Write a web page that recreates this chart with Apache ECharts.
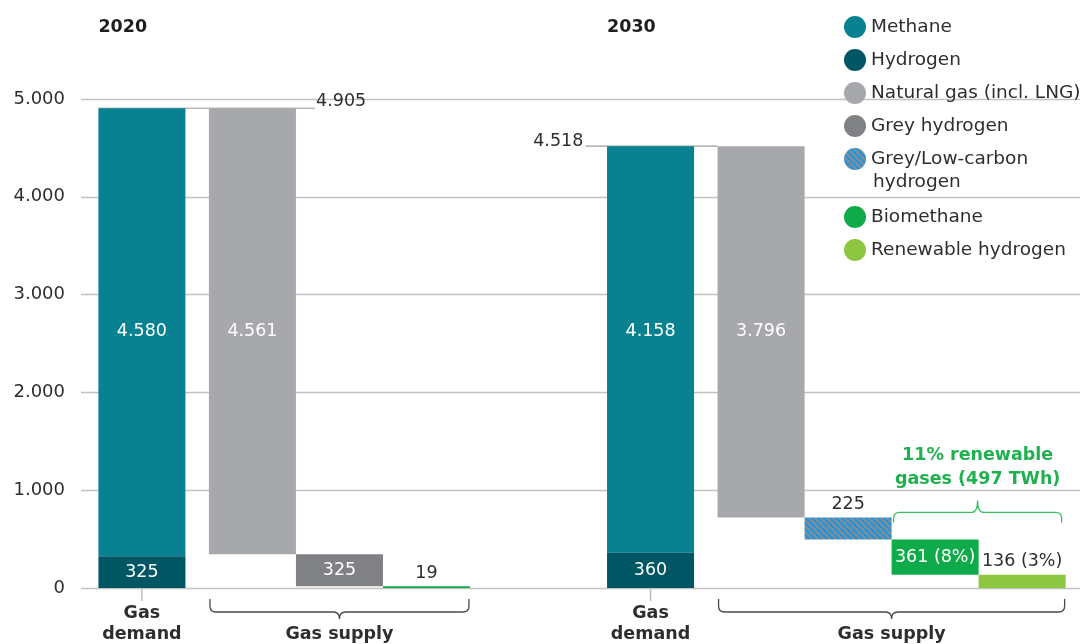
<!DOCTYPE html>
<html><head><meta charset="utf-8">
<script src="https://cdn.jsdelivr.net/npm/echarts@6/dist/echarts.min.js"></script>
<style>html,body{margin:0;padding:0;background:#fff}#c{width:1080px;height:644px}</style>
</head><body><div id="c"></div>
<script>
// ---------------- data ----------------
const years = ['2020', '2030'];
const demandMethane = [4580, 4158];
const demandHydrogen = [325, 360];
const demandTotal = [4905, 4518];
const supplyCategories2020 = ['Natural gas (incl. LNG)', 'Grey hydrogen', 'Biomethane'];
const supplyValues2020 = [4561, 325, 19];
const supplyCategories2030 = ['Natural gas (incl. LNG)', 'Grey/Low-carbon hydrogen', 'Biomethane', 'Renewable hydrogen'];
const supplyValues2030 = [3796, 225, 361, 136];
const supplyShare2030 = [null, null, 8, 3];
const renewableShare2030 = 11;
const renewableTWh2030 = 497;
const yTicks = [0, 1000, 2000, 3000, 4000, 5000];
const seriesNames = ['Methane', 'Hydrogen', 'Natural gas (incl. LNG)', 'Grey hydrogen', 'Grey/Low-carbon hydrogen', 'Biomethane', 'Renewable hydrogen'];

// ---------------- styles / layout ----------------
const FONT = "'DejaVu Sans', sans-serif";
const TXT = '#2e2e2e';
const GREEN_TXT = '#1fb04f';
const LAYOUT = { barW: 1, leftPad: 0.2, innerGap: 0.27, groupGap: 1.575, xMax: 11.48, totalLineOver: [0.22, 0.25], totalLabelSide: ['right', 'left'] };

function hatchPattern() {
  const s = 6, c = document.createElement('canvas');
  c.width = s; c.height = s;
  const g = c.getContext('2d');
  g.fillStyle = '#8a8b8e'; g.fillRect(0, 0, s, s);
  g.strokeStyle = '#2196e0'; g.lineWidth = 2.4;
  [-s, 0, s].forEach(o => { g.beginPath(); g.moveTo(o, 0); g.lineTo(o + s, s); g.stroke(); });
  return { image: c, repeat: 'repeat' };
}
const COLORS = {
  'Methane': '#088291', 'Hydrogen': '#005663', 'Natural gas (incl. LNG)': '#a7a8ab', 'Grey hydrogen': '#808184',
  'Grey/Low-carbon hydrogen': hatchPattern(), 'Biomethane': '#0fab4a', 'Renewable hydrogen': '#8dc63f'
};

function fmt(v) { return String(v).replace(/\B(?=(\d{3})+(?!\d))/g, '.'); }

// ---------------- build geometry from data ----------------
const groups = [];
let cursor = LAYOUT.leftPad;
years.forEach((yr, g) => {
  const vals = g === 0 ? supplyValues2020 : supplyValues2030;
  const names = g === 0 ? supplyCategories2020 : supplyCategories2030;
  const shares = g === 0 ? [] : supplyShare2030;
  const dLeft = cursor, dRight = dLeft + LAYOUT.barW;
  const sLeft = dRight + LAYOUT.innerGap;
  let top = demandTotal[g];
  const supply = vals.map((v, i) => {
    const hi = top, lo = top - v; top = lo;
    const share = shares[i];
    return { name: names[i], x0: sLeft + i * LAYOUT.barW, x1: sLeft + (i + 1) * LAYOUT.barW, lo, hi,
      label: share != null ? fmt(v) + ' (' + share + '%)' : fmt(v) };
  });
  const sRight = sLeft + vals.length * LAYOUT.barW;
  const ng = supply[0];
  const demand = [
    { name: 'Hydrogen', x0: dLeft, x1: dRight, lo: 0, hi: demandHydrogen[g], label: fmt(demandHydrogen[g]) },
    { name: 'Methane', x0: dLeft, x1: dRight, lo: demandHydrogen[g], hi: demandHydrogen[g] + demandMethane[g],
      label: fmt(demandMethane[g]), labelAt: (ng.lo + ng.hi) / 2 }
  ];
  groups.push({ yr, g, dLeft, dRight, sLeft, sRight, supply, demand, total: demandTotal[g] });
  cursor = sRight + LAYOUT.groupGap;
});

const barItems = {};
seriesNames.forEach(n => barItems[n] = []);
groups.forEach(G => G.demand.concat(G.supply).forEach(b => barItems[b.name].push(b)));

function makeBarRender(name) {
  return function (params, api) {
    const b = barItems[name][params.dataIndex];
    const p0 = api.coord([api.value(0), api.value(2)]);
    const p1 = api.coord([api.value(1), api.value(3)]);
    const h = p0[1] - p1[1];
    const cx = (p0[0] + p1[0]) / 2;
    const children = [{ type: 'rect', shape: { x: p0[0], y: p1[1], width: p1[0] - p0[0], height: h }, style: { fill: COLORS[name] } }];
    let ly, fill;
    if (h >= 26) { ly = api.coord([0, b.labelAt != null ? b.labelAt : (b.lo + b.hi) / 2])[1]; fill = '#ffffff'; }
    else { ly = p1[1] - 13; fill = TXT; }
    children.push({ type: 'text', z2: 10, style: { text: b.label, x: cx, y: ly, align: 'center', verticalAlign: 'middle', fill, fontSize: 17.5, fontFamily: FONT } });
    return { type: 'group', children };
  };
}

function bracePath(xa, xb, yt, yh, yc) {
  const r = 6, xm = (xa + xb) / 2, d = yh > yt ? 1 : -1;
  return `M${xa},${yt} L${xa},${yh - d * r} Q${xa},${yh} ${xa + r},${yh} L${xm - r},${yh} Q${xm},${yh} ${xm},${yc} Q${xm},${yh} ${xm + r},${yh} L${xb - r},${yh} Q${xb},${yh} ${xb},${yh - d * r} L${xb},${yt}`;
}

function renderAnno(params, api) {
  const G = groups[params.dataIndex];
  const base = api.coord([0, 0])[1];
  const ch = [];
  // total line + label
  const ty = api.coord([0, G.total])[1];
  let xs, xe;
  if (LAYOUT.totalLabelSide[G.g] === 'right') {
    xs = api.coord([G.dLeft, 0])[0]; xe = api.coord([G.supply[0].x1 + LAYOUT.totalLineOver[G.g], 0])[0];
    ch.push({ type: 'text', style: { text: fmt(G.total), x: xe + 1, y: ty - 7, align: 'left', verticalAlign: 'middle', fill: TXT, fontSize: 17.5, fontFamily: FONT } });
  } else {
    xs = api.coord([G.dLeft - LAYOUT.totalLineOver[G.g], 0])[0]; xe = api.coord([G.sLeft, 0])[0];
    ch.push({ type: 'text', style: { text: fmt(G.total), x: xs - 2, y: ty - 5, align: 'right', verticalAlign: 'middle', fill: TXT, fontSize: 17.5, fontFamily: FONT } });
  }
  ch.push({ type: 'line', shape: { x1: xs, y1: ty, x2: xe, y2: ty }, style: { stroke: '#b9b9b9', lineWidth: 1.6 } });
  // year title
  ch.push({ type: 'text', style: { text: G.yr, x: api.coord([G.dLeft, 0])[0], y: 27, align: 'left', verticalAlign: 'middle', fill: '#1e1e1e', fontSize: 17.5, fontWeight: 'bold', fontFamily: FONT } });
  // demand tick + label
  const dc = api.coord([(G.dLeft + G.dRight) / 2, 0])[0];
  ch.push({ type: 'line', shape: { x1: dc, y1: base + 1, x2: dc, y2: base + 13 }, style: { stroke: '#b9b9b9', lineWidth: 1.4 } });
  ch.push({ type: 'text', style: { text: 'Gas\ndemand', x: dc, y: base + 36, align: 'center', verticalAlign: 'middle', lineHeight: 21, fill: TXT, fontSize: 17.5, fontWeight: 'bold', fontFamily: FONT } });
  // supply brace + label
  const sa = api.coord([G.sLeft, 0])[0], sb = api.coord([G.sRight, 0])[0];
  ch.push({ type: 'path', shape: { pathData: bracePath(sa + 1, sb - 1, base + 11, base + 24, base + 31) }, style: { stroke: '#4a4a4a', lineWidth: 1.3, fill: null } });
  ch.push({ type: 'text', style: { text: 'Gas supply', x: (sa + sb) / 2, y: base + 46, align: 'center', verticalAlign: 'middle', fill: TXT, fontSize: 17.5, fontWeight: 'bold', fontFamily: FONT } });
  // renewable annotation
  const ren = G.supply.filter(b => b.name === 'Biomethane' || b.name === 'Renewable hydrogen');
  if (ren.length === 2) {
    const xa = api.coord([ren[0].x0, 0])[0] + 2, xb = api.coord([ren[1].x1, 0])[0] - 4;
    const yt = api.coord([0, ren[0].hi])[1] - 17;
    ch.push({ type: 'path', shape: { pathData: bracePath(xa, xb, yt, yt - 10, yt - 22) }, style: { stroke: '#3cbd62', lineWidth: 1.3, fill: null } });
    ch.push({ type: 'text', style: { text: renewableShare2030 + '% renewable\ngases (' + renewableTWh2030 + ' TWh)', x: (xa + xb) / 2, y: yt - 55, align: 'center', verticalAlign: 'middle', lineHeight: 24, fill: GREEN_TXT, fontSize: 17.5, fontWeight: 'bold', fontFamily: FONT } });
  }
  return { type: 'group', children: ch };
}

const series = seriesNames.map(n => ({
  name: n, type: 'custom', z: 3, renderItem: makeBarRender(n),
  itemStyle: { color: COLORS[n] },
  encode: { x: [0, 1], y: [2, 3] },
  data: barItems[n].map(b => [b.x0, b.x1, b.lo, b.hi])
}));
series.unshift({ name: 'annotations', type: 'custom', z: 1, silent: true, renderItem: renderAnno, data: groups.map(G => [G.g]) });

const legendText = { fontSize: 18.5, color: TXT, fontFamily: FONT };
const option = {
  animation: false,
  backgroundColor: '#ffffff',
  grid: { left: 81, right: 0, top: 99, bottom: 56 },
  xAxis: { type: 'value', min: 0, max: LAYOUT.xMax, show: false },
  yAxis: {
    type: 'value', min: yTicks[0], max: yTicks[yTicks.length - 1], interval: yTicks[1] - yTicks[0],
    axisLine: { show: false }, axisTick: { show: false },
    axisLabel: { formatter: v => fmt(v), fontSize: 18, color: TXT, fontFamily: FONT, margin: 16, padding: [0, 0, 8, 0] },
    splitLine: { lineStyle: { color: '#c2c2c2', width: 1.4 } }
  },
  legend: [
    { data: seriesNames.slice(0, 5), orient: 'vertical', left: 844, top: 16, itemWidth: 22, itemHeight: 22, itemGap: 11, icon: 'circle', padding: 0,
      formatter: n => n === 'Grey/Low-carbon hydrogen' ? 'Grey/Low-carbon' : n, textStyle: legendText, selectedMode: false },
    { data: seriesNames.slice(5), orient: 'vertical', left: 844, top: 206, itemWidth: 22, itemHeight: 22, itemGap: 11, icon: 'circle', padding: 0,
      textStyle: legendText, selectedMode: false }
  ],
  graphic: [{ type: 'text', left: 873, top: 173, style: { text: 'hydrogen', fontSize: 18.5, fill: TXT, fontFamily: FONT } }],
  series
};
echarts.init(document.getElementById('c')).setOption(option);
</script></body></html>
